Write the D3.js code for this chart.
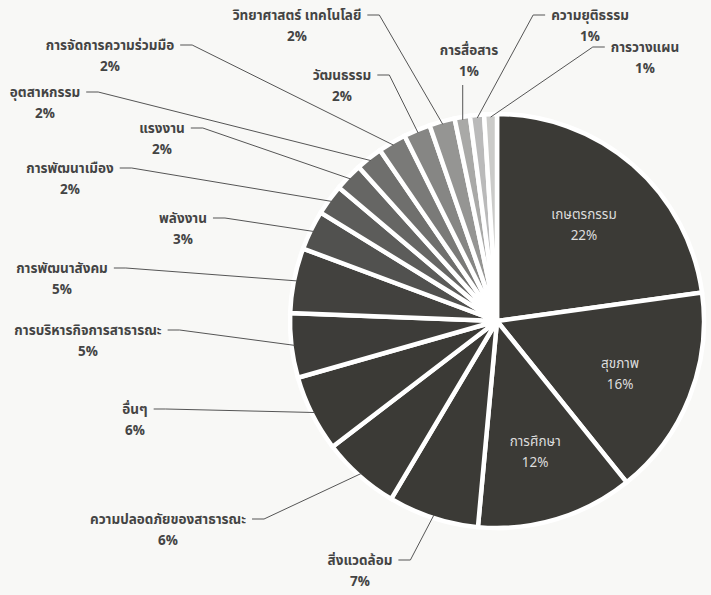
<!DOCTYPE html>
<html lang="th">
<head>
  <meta charset="UTF-8">
  <title>Pie chart</title>
  <script src="https://d3js.org/d3.v7.min.js"></script>
  <style>
    body { margin: 0; background: #f8f8f6; }
    svg { display: block; }
    .lbl { font-family: "Noto Sans Thai", Tahoma, "Noto Sans", sans-serif; font-size: 13.5px; font-weight: bold; fill: #444; }
    .inner { font-family: "Noto Sans Thai", Tahoma, "Noto Sans", sans-serif; font-size: 13.5px; fill: #ddd; }
    .leader { fill: none; stroke: #555; stroke-width: 1px; }
  </style>
</head>
<body>
  <svg width="711" height="595"></svg>
  <script>
    // slices, clockwise from 12 o'clock
    const categories = ['เกษตรกรรม', 'สุขภาพ', 'การศึกษา', 'สิ่งแวดล้อม', 'ความปลอดภัยของสาธารณะ', 'อื่นๆ',
      'การบริหารกิจการสาธารณะ', 'การพัฒนาสังคม', 'พลังงาน', 'การพัฒนาเมือง', 'แรงงาน', 'อุตสาหกรรม',
      'การจัดการความร่วมมือ', 'วัฒนธรรม', 'วิทยาศาสตร์ เทคโนโลยี', 'การสื่อสาร', 'ความยุติธรรม', 'การวางแผน'];
    const values = [22.9, 16.5, 12.3, 7.1, 6.1, 6.0, 5.05, 5.1, 3.1, 2.4, 2.2, 2.1, 2.2, 2.1, 2.0, 1.2, 1.1, 1.0];
    const pctLabels = ['22%', '16%', '12%', '7%', '6%', '6%', '5%', '5%', '3%', '2%', '2%', '2%', '2%', '2%', '2%', '1%', '1%', '1%'];

    const colors = ['#3b3a36', '#3b3a36', '#3b3a36', '#3b3a36', '#3b3a36', '#3b3a36', '#3d3c39', '#42413e',
      '#51514f', '#5c5c5a', '#666664', '#6f6f6d', '#7a7a78', '#868684', '#959593', '#a9a9a7', '#bababa', '#cbcbc9'];

    // label layout: [x, y, side of leader]  (null = inside label)
    const labelPos = [null, null, null,
      [360, 560, 'r'], [168, 519, 'r'], [135, 409, 'r'], [88, 330, 'r'], [62, 268, 'r'], [183, 218, 'r'],
      [70, 168, 'r'], [162, 128, 'r'], [45, 92, 'r'], [110, 45, 'r'], [342, 75, 'r'], [297, 15, 'r'],
      [469, 50, 'b'], [590, 15, 'l'], [645, 47, 'l']];

    const cx = 497, cy = 321, radius = 207;
    const svg = d3.select('svg');
    const g = svg.append('g').attr('transform', `translate(${cx},${cy})`);

    const pie = d3.pie().sort(null).value(d => d)(values);
    const arc = d3.arc().innerRadius(0).outerRadius(radius);
    const edgeArc = d3.arc().innerRadius(radius - 3).outerRadius(radius - 3);
    const innerArc = d3.arc().innerRadius(radius * 0.64).outerRadius(radius * 0.64);

    g.selectAll('path.slice')
      .data(pie)
      .enter()
      .append('path')
      .attr('class', 'slice')
      .attr('d', arc)
      .attr('fill', (d, i) => colors[i])
      .attr('stroke', '#fff')
      .attr('stroke-width', 4.5);

    pie.forEach((d, i) => {
      const pos = labelPos[i];
      if (!pos) {
        const [x, y] = innerArc.centroid(d);
        g.append('text').attr('class', 'inner').attr('x', x).attr('y', y - 2)
          .attr('text-anchor', 'middle').text(categories[i]);
        g.append('text').attr('class', 'inner').attr('x', x).attr('y', y + 19)
          .attr('text-anchor', 'middle').text(pctLabels[i]);
        return;
      }
      const [lx, ly, side] = pos;
      const name = svg.append('text').attr('class', 'lbl').attr('x', lx).attr('y', ly + 5)
        .attr('text-anchor', 'middle').text(categories[i]);
      svg.append('text').attr('class', 'lbl').attr('x', lx).attr('y', ly + 26)
        .attr('text-anchor', 'middle').text(pctLabels[i]);

      const w = name.node().getComputedTextLength();
      const [ex, ey] = edgeArc.centroid(d);
      const end = [ex + cx, ey + cy];
      let pts;
      if (side === 'r') {
        const sx = lx + w / 2 + 6;
        pts = [[sx, ly], [sx + 12, ly], end];
      } else if (side === 'l') {
        const sx = lx - w / 2 - 6;
        pts = [[sx, ly], [sx - 12, ly], end];
      } else {
        pts = [[end[0], ly + 35], end];
      }
      svg.append('path').attr('class', 'leader').attr('d', d3.line()(pts));
    });
  </script>
</body>
</html>
